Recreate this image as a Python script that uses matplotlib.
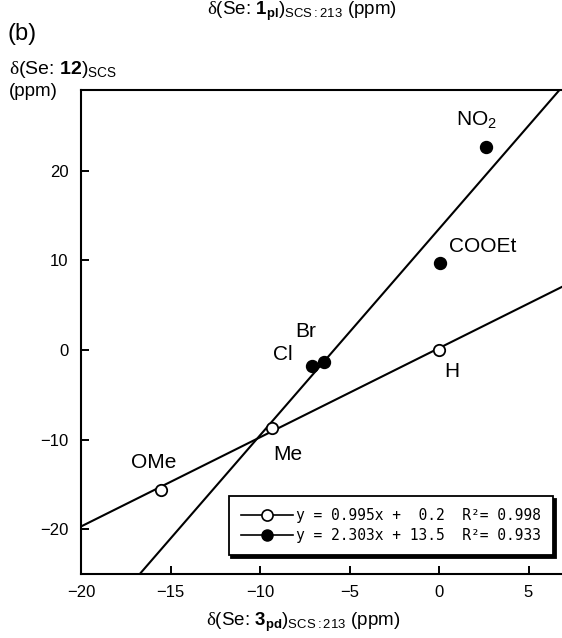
"""
Se NMR SCS correlation plot, panel (b).
"""
import matplotlib
matplotlib.use("Agg")
import matplotlib.pyplot as plt
from matplotlib.lines import Line2D

plt.rcParams["font.family"] = ["Liberation Sans", "DejaVu Sans"]
plt.rcParams["mathtext.fontset"] = "custom"
plt.rcParams["mathtext.rm"] = "Liberation Sans"
plt.rcParams["mathtext.bf"] = "Liberation Sans:bold"
plt.rcParams["mathtext.it"] = "Liberation Sans:italic"
plt.rcParams["mathtext.sf"] = "Liberation Serif"

# open circles: series fitted with the shallow line
open_names = ["OMe", "Me", "H"]
open_x = [-15.55, -9.33, 0.0]
open_y = [-15.6, -8.7, 0.0]

# filled circles: series fitted with the steep line
filled_names = ["Cl", "Br", "COOEt", "NO$_2$"]
filled_x = [-7.1, -6.45, 0.05, 2.65]
filled_y = [-1.75, -1.3, 9.7, 22.65]

slopes = [0.995, 2.303]
intercepts = [0.2, 13.5]
r2 = [0.998, 0.933]

x_ticks = [-20, -15, -10, -5, 0, 5]
y_ticks = [-20, -10, 0, 10, 20]

# label offsets in pixels from each point
open_offsets = [(-7, 27), (16, -27), (13, -22)]
filled_offsets = [(-29, 11), (-18, 30), (43, 16), (-10, 27)]

fig = plt.figure(figsize=(5.62, 6.38), dpi=100)
ax = fig.add_axes([81 / 562, 64 / 638, 483.3 / 562, 484 / 638])
ax.set_xlim(-20, 7)
ax.set_ylim(-25, 29)

# regression lines across the full x range
xs = [-20, 7]
for m, b in zip(slopes, intercepts):
    ax.plot(xs, [m * v + b for v in xs], color="black", lw=1.5, zorder=2)

ax.plot(open_x, open_y, "o", ms=8.2, mfc="white", mec="black", mew=1.3,
        zorder=3, clip_on=False)
ax.plot(filled_x, filled_y, "o", ms=8.6, mfc="black", mec="black", zorder=3)

for name, x, y, off in zip(open_names, open_x, open_y, open_offsets):
    ax.annotate(name, (x, y), xytext=off, textcoords="offset pixels",
                ha="center", va="center", fontsize=15)
for name, x, y, off in zip(filled_names, filled_x, filled_y, filled_offsets):
    ax.annotate(name, (x, y), xytext=off, textcoords="offset pixels",
                ha="center", va="center", fontsize=15)

ax.set_xticks(x_ticks)
ax.set_yticks(y_ticks)
ax.set_xticklabels(["\u2212" + str(-t) if t < 0 else str(t) for t in x_ticks])
ax.set_yticklabels(["\u2212" + str(-t) if t < 0 else str(t) for t in y_ticks])
ax.tick_params(direction="in", length=6, width=1.4, labelsize=12, pad=9)
ax.tick_params(axis="x", pad=8)
for side in ["left", "bottom", "top", "right"]:
    ax.spines[side].set_linewidth(1.5)

# legend with the fit equations
handles = [
    Line2D([], [], color="black", lw=1.2, marker="o", ms=8, mfc="white",
           mec="black", mew=1.2),
    Line2D([], [], color="black", lw=1.2, marker="o", ms=8, mfc="black",
           mec="black"),
]
labels = [
    "y = %.3fx + %4.1f  R\u00b2= %.3f" % (slopes[0], intercepts[0], r2[0]),
    "y = %.3fx + %4.1f  R\u00b2= %.3f" % (slopes[1], intercepts[1], r2[1]),
]
leg = ax.legend(handles, labels, loc="lower right",
                bbox_to_anchor=((553 - 81) / 483.3, (638 - 555 - 64) / 484),
                bbox_transform=ax.transAxes,
                prop={"family": "DejaVu Sans Mono", "size": 10.5},
                frameon=True, fancybox=False, edgecolor="black",
                shadow={"color": "black", "alpha": 1.0},
                handlelength=3.6, handletextpad=0.15, borderpad=0.85,
                labelspacing=0.3, borderaxespad=0)
leg.get_frame().set_linewidth(1.3)

fig.text(302 / 562, 1 - 11 / 638,
         r"$\mathsf{\delta}$(Se: $\mathbf{1}_{\mathbf{pl}}$)$_{\mathrm{SCS:213}}$ (ppm)",
         ha="center", va="center", fontsize=13.5)
fig.text(22 / 562, 1 - 34 / 638, "(b)", ha="center", va="center", fontsize=17)
fig.text(9 / 562, 1 - 70 / 638,
         r"$\mathsf{\delta}$(Se: $\mathbf{12}$)$_{\mathrm{SCS}}$",
         ha="left", va="center", fontsize=14)
fig.text(9 / 562, 1 - 91 / 638, "(ppm)", ha="left", va="center",
         fontsize=13.5)
fig.text(303 / 562, 1 - 622 / 638,
         r"$\mathsf{\delta}$(Se: $\mathbf{3}_{\mathbf{pd}}$)$_{\mathrm{SCS:213}}$ (ppm)",
         ha="center", va="center", fontsize=13.5)

fig.savefig("out.png", dpi=100)
